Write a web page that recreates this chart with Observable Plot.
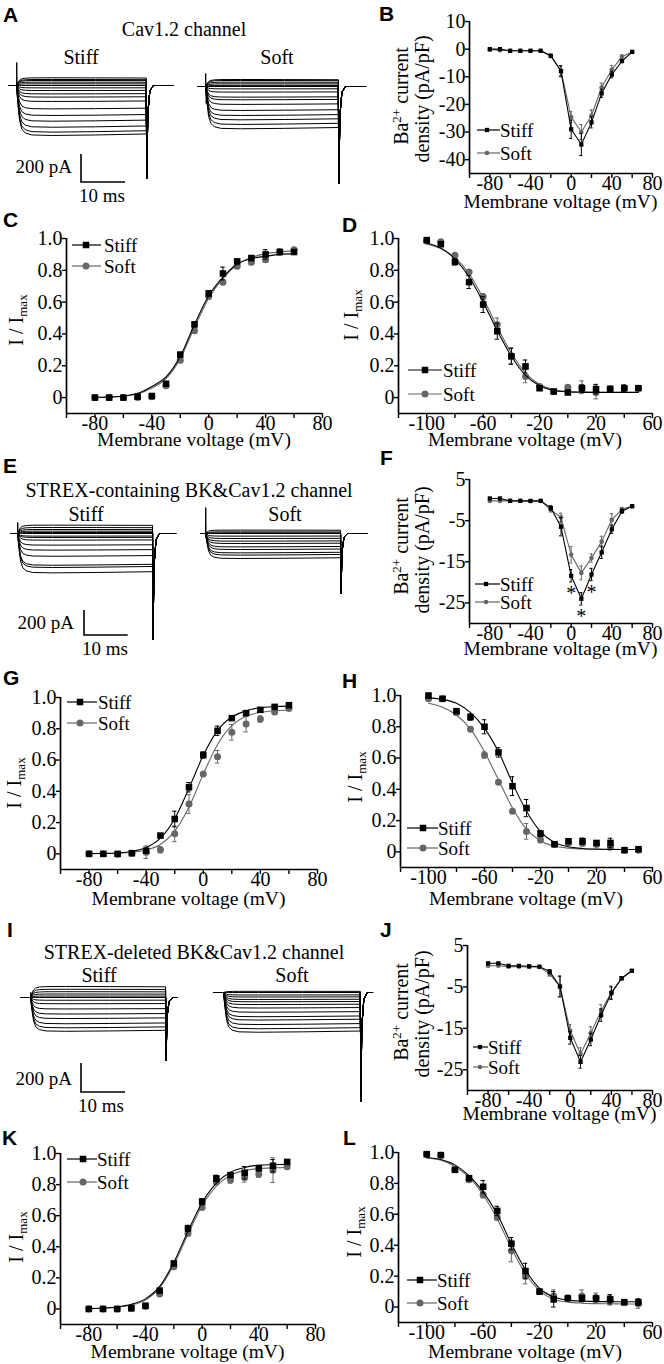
<!DOCTYPE html>
<html>
<head>
<meta charset="utf-8">
<script src="https://cdn.jsdelivr.net/npm/d3@7"></script>
<script src="https://cdn.jsdelivr.net/npm/@observablehq/plot@0.6"></script>
<style>
  html, body { margin: 0; padding: 0; background: #fff; }
  #fig { position: relative; width: 664px; height: 1364px; overflow: hidden; background: #fff; }
  #fig > svg { position: absolute; left: 0; top: 0; }
</style>
</head>
<body>
<div id="fig"></div>
<script>
// ======================= DATA =======================
const seriesNames = ["Stiff", "Soft"];
const vIV    = [-80,-70,-60,-50,-40,-30,-20,-10,0,10,20,30,40,50,60];
const vInact = [-100,-90,-80,-70,-60,-50,-40,-30,-20,-10,0,10,20,30,40,50];

// B: Cav1.2, Ba2+ current density (pA/pF)
const ivB_stiff    = [0,0,-0.6,-0.6,-0.6,-0.6,-2.5,-8,-29,-34.5,-26.5,-16,-9.2,-4.3,-1];
const ivB_stiffErr = [0,0,0,0,0,0,0.5,2,3.3,4,2,1.5,1.2,0.6,0];
const ivB_soft     = [-0.2,-0.4,-0.6,-0.6,-0.6,-0.6,-2.2,-7.8,-24.6,-30,-24,-13.8,-7.4,-2.7,-1];
const ivB_softErr  = [0,0,0,0,0,0,0.5,1.8,2,2.7,2,1.5,1.5,0.6,0];

// F: STREX-containing BK & Cav1.2
const ivF_stiff    = [0.4,0.4,-0.2,-0.2,-0.2,-0.2,-1.9,-6.5,-18.4,-24,-18.1,-12.7,-7.1,-2.7,-1.5];
const ivF_stiffErr = [0,0,0,0,0,0,0.5,2.2,1.5,1.5,1.5,1.5,1,0.5,0.3];
const ivF_soft     = [-0.2,-0.2,-0.2,-0.2,-0.3,-0.2,-2.4,-4.2,-13.3,-17.7,-14.1,-10.1,-4.8,-2.2,-1.5];
const ivF_softErr  = [0,0,0,0,0,0,0.5,1,2,1.7,1,1.3,1.5,0.4,0.3];
const sigF_v       = [0,10,20];

// J: STREX-deleted BK & Cav1.2
const ivJ_stiff    = [0.7,0.7,0.1,0.1,0,-0.1,-1.3,-4.9,-17.3,-23.1,-17.7,-11.8,-6.5,-2.9,-1.1];
const ivJ_stiffErr = [0,0,0,0,0,0,0.5,2.5,1.5,1.5,1.5,1.5,1.5,0.4,0.3];
const ivJ_soft     = [0.1,0.1,-0.1,-0.1,-0.2,-0.2,-1.9,-4.9,-15.6,-21.2,-16.1,-10.8,-6.3,-2.9,-1.1];
const ivJ_softErr  = [0,0,0,0,0,0,0.5,2.5,1.5,1.5,1.5,1.5,1.5,0.4,0.3];

// C: activation (I/Imax)
const actC_stiff    = [0,0,0,0.006,0.01,0.087,0.27,0.46,0.655,0.78,0.856,0.877,0.9,0.915,0.915];
const actC_stiffErr = [0,0,0,0,0,0.01,0.015,0.015,0.015,0.04,0.015,0.015,0.03,0.015,0];
const actC_soft     = [0,0,0,0,0.006,0.074,0.235,0.42,0.636,0.725,0.826,0.85,0.866,0.915,0.93];
const actC_softErr  = [0,0,0,0,0,0.01,0.015,0.015,0.015,0.015,0.015,0.015,0.015,0.02,0];
const fitC_stiff    = [0.002,0.004,0.01,0.027,0.07,0.13,0.26,0.46,0.64,0.757,0.84,0.874,0.888,0.9,0.905];
const fitC_soft     = [0.001,0.003,0.008,0.022,0.06,0.12,0.245,0.44,0.625,0.75,0.835,0.88,0.905,0.915,0.922];

// D: inactivation
const inD_stiff    = [0.99,0.964,0.853,0.726,0.585,0.417,0.259,0.196,0.059,0.038,0.032,0.059,0.053,0.055,0.059,0.059];
const inD_stiffErr = [0.01,0.01,0.02,0.04,0.05,0.05,0.05,0.04,0.015,0.01,0.01,0.02,0.03,0.01,0.02,0.01];
const inD_soft     = [0.985,0.979,0.895,0.79,0.634,0.46,0.263,0.133,0.07,0.038,0.065,0.065,0.032,0.055,0.059,0.059];
const inD_softErr  = [0.01,0.01,0.01,0.015,0.02,0.04,0.05,0.04,0.015,0.01,0.015,0.04,0.04,0.01,0.02,0.015];
const fitD_stiff   = [0.97,0.94,0.87,0.76,0.6,0.42,0.26,0.14,0.075,0.045,0.036,0.033,0.032,0.032,0.032,0.032];
const fitD_soft    = [0.965,0.935,0.88,0.78,0.625,0.445,0.28,0.155,0.082,0.05,0.038,0.036,0.035,0.035,0.035,0.035];

// G: activation
const actG_stiff    = [0,0,0,0.004,0.02,0.117,0.223,0.426,0.632,0.787,0.868,0.9,0.921,0.94,0.951];
const actG_stiffErr = [0,0,0,0,0.01,0.01,0.05,0.03,0.02,0.03,0.01,0.01,0.01,0.01,0];
const actG_soft     = [0,0,-0.002,0.004,0.01,0.026,0.128,0.319,0.51,0.621,0.777,0.83,0.862,0.908,0.93];
const actG_softErr  = [0,0,0,0.01,0.04,0.02,0.05,0.06,0.01,0.04,0.05,0.05,0.02,0.01,0];
const fitG_stiff    = [0.002,0.003,0.006,0.015,0.04,0.1,0.225,0.42,0.63,0.79,0.875,0.915,0.935,0.942,0.945];
const fitG_soft     = [0.001,0.002,0.004,0.01,0.025,0.06,0.145,0.3,0.51,0.7,0.82,0.88,0.905,0.915,0.92];

// H: inactivation
const inH_stiff    = [1.0,0.979,0.9,0.862,0.8,0.636,0.42,0.28,0.117,0.049,0.068,0.068,0.057,0.057,0.011,0.017];
const inH_stiffErr = [0.01,0.01,0.01,0.02,0.045,0.03,0.06,0.055,0.02,0.01,0.015,0.02,0.015,0.03,0.01,0.01];
const inH_soft     = [0.979,0.979,0.89,0.784,0.619,0.445,0.26,0.131,0.078,0.047,0.059,0.053,0.047,0.032,0.011,0.011];
const inH_softErr  = [0.01,0.01,0.01,0.01,0.02,0.01,0.01,0.05,0.02,0.01,0.015,0.01,0.01,0.02,0.01,0.01];
const fitH_stiff   = [0.985,0.975,0.95,0.89,0.79,0.64,0.44,0.26,0.13,0.06,0.033,0.022,0.018,0.016,0.015,0.015];
const fitH_soft    = [0.95,0.925,0.875,0.785,0.64,0.46,0.28,0.145,0.07,0.037,0.024,0.018,0.016,0.015,0.015,0.015];

// K: activation
const actK_stiff    = [0,0,0,0.004,0.021,0.118,0.293,0.518,0.69,0.84,0.861,0.876,0.904,0.921,0.946];
const actK_stiffErr = [0,0,0,0,0,0.01,0.01,0.02,0.02,0.02,0.015,0.04,0.015,0.04,0.01];
const actK_soft     = [0,0,0,0.004,0.015,0.096,0.272,0.486,0.653,0.818,0.829,0.846,0.867,0.893,0.914];
const actK_softErr  = [0,0,0,0,0,0.01,0.01,0.01,0.01,0.02,0.02,0.03,0.02,0.08,0.01];
const fitK_stiff    = [0.003,0.006,0.013,0.03,0.065,0.145,0.3,0.5,0.685,0.81,0.88,0.91,0.925,0.928,0.93];
const fitK_soft     = [0.002,0.005,0.011,0.025,0.058,0.135,0.285,0.48,0.665,0.79,0.86,0.89,0.903,0.908,0.91];

// L: inactivation
const inL_stiff    = [0.989,0.983,0.888,0.834,0.778,0.622,0.41,0.233,0.1,0.05,0.056,0.056,0.056,0.05,0.032,0.032];
const inL_stiffErr = [0.01,0.01,0.01,0.015,0.04,0.03,0.04,0.05,0.015,0.05,0.015,0.02,0.02,0.03,0.015,0.02];
const inL_soft     = [0.989,0.983,0.888,0.823,0.726,0.579,0.363,0.2,0.1,0.071,0.06,0.071,0.06,0.043,0.028,0.022];
const inL_softErr  = [0.01,0.01,0.01,0.015,0.02,0.015,0.07,0.05,0.015,0.04,0.015,0.04,0.03,0.03,0.015,0.03];
const fitL_stiff   = [0.968,0.955,0.92,0.85,0.745,0.6,0.41,0.24,0.12,0.065,0.045,0.038,0.035,0.035,0.034,0.034];
const fitL_soft    = [0.963,0.95,0.91,0.84,0.725,0.57,0.38,0.215,0.105,0.05,0.032,0.025,0.022,0.021,0.02,0.02];

// Current traces: steady amplitude of each sweep (pA)
const traceA_stiff = [55,43,36,24,12,0,-17,-36,-60,-83,-114,-167,-214,-255,-298,-333,-357];
const traceA_soft  = [50,43,31,19,8,0,-17,-40,-76,-95,-128,-171,-207,-238,-271,-302];
const traceE_stiff = [67,48,32,19,8,0,-21,-32,-53,-93,-133,-182,-254,-272,-315];
const traceE_soft  = [27,13,5,0,-21,-40,-61,-80,-107,-128,-155,-173,-200];
const traceI_stiff = [76,57,40,24,10,0,-19,-43,-79,-114,-145,-181,-209,-233];
const traceI_soft  = [8,0,-17,-31,-48,-64,-83,-107,-136,-167,-190,-221,-250,-274];
// per group: pulse end (ms), tail current peak (pA), onset transient (pA)
const pulseEnd  = {Astiff: 29.5, Asoft: 30.2, Estiff: 30.9, Esoft: 30.9, Istiff: 30.7, Isoft: 31.1};
const tailPeak  = {Astiff: -664, Asoft: -693, Estiff: -848, Esoft: -480, Istiff: -436, Isoft: -750};
const onsetUp   = {Astiff: 164, Asoft: 93, Estiff: 88, Esoft: 208, Istiff: 36, Isoft: 0};
const onsetDown = {Astiff: -40, Asoft: -121, Estiff: -30, Esoft: -30, Istiff: -20, Isoft: 0};
// activation time course of a sweep, and tail decay
const riseTime = [0,0.3,0.7,1.2,2,3.5,8,18];
const riseFrac = [0,0.35,0.7,0.87,0.95,0.99,1,0.99];
const endFrac  = 0.97;
const tailTime = [0,0.1,0.35,0.8,1.6];
const tailFrac = [0,1,0.3,0.06,0];

// tick values / labels
const xTicksIV   = [-100,-80,-60,-40,-20,0,20,40,60,80];
const xLabelsIV  = [-80,-40,0,40,80];
const xTicksIn   = [-120,-100,-80,-60,-40,-20,0,20,40,60];
const xLabelsIn  = [-100,-60,-20,20,60];
const yTicksN    = [0,0.2,0.4,0.6,0.8,1.0];
const yLabelsN   = ["0","0.2","0.4","0.6","0.8","1.0"];
const yTicksB    = [10,0,-10,-20,-30,-40];
const yLabelsB   = ["10","0","-10","-20","-30","-40"];
const yTicksFJ   = [5,-5,-15,-25];
const yLabelsFJ  = ["5","-5","-15","-25"];

// ======================= LAYOUT / STYLE =======================
const W = 664, H = 1364;
const SERIF = "Liberation Serif, Times New Roman, Times, serif";
const SANS = "Liberation Sans, Arial, Helvetica, sans-serif";
const BLACK = "#000000", GRAY = "#666666";
const STYLE = {background: "transparent", fontFamily: SERIF, fontSize: "20px", color: "#000", overflow: "visible"};
const fig = d3.select("#fig");

const rows = (vs, ys, es) => vs.map((v, i) => ({v, y: ys[i], e: es ? es[i] : 0}));

function serifify(svg) {
  const s = d3.select(svg).attr("font-family", SERIF).attr("font-size", 20);
  s.selectAll("g[aria-label$='tick label']").attr("font-family", SERIF).attr("font-size", 20);
  s.selectAll("text").attr("font-family", SERIF);
}

function chart(L, S) {
  const xLab = new Set(L.xLabels);
  const yLab = new Map(L.yTicks.map((v, i) => [v, L.yLabels[i]]));
  const big = S.kind !== "iv";
  const marks = [
    Plot.axisX({ticks: L.xTicks, tickFormat: v => xLab.has(v) ? String(v) : "", tickSize: 5, tickPadding: -2.5, strokeWidth: 1.4, label: null}),
    Plot.axisY({ticks: L.yTicks, tickFormat: v => yLab.get(v) ?? "", tickSize: 4, tickPadding: 0, strokeWidth: 1.4, label: null}),
    Plot.ruleX([L.xDomain[0]], {stroke: BLACK, strokeWidth: 1.7}),
    Plot.ruleY([L.yDomain[0]], {stroke: BLACK, strokeWidth: 1.7})
  ];
  const series = [
    {d: rows(S.v, S.soft, S.softErr), fit: S.fitSoft ? rows(S.v, S.fitSoft) : null, c: GRAY, sym: "circle"},
    {d: rows(S.v, S.stiff, S.stiffErr), fit: S.fitStiff ? rows(S.v, S.fitStiff) : null, c: BLACK, sym: "square"}
  ];
  const cap = 1.6;
  for (const s of series) {
    const eb = s.d.filter(p => p.e > 0);
    if (s.fit) marks.push(Plot.line(s.fit, {x: "v", y: "y", stroke: s.c, strokeWidth: 1.1, curve: "monotone-x"}));
    else marks.push(Plot.line(s.d, {x: "v", y: "y", stroke: s.c, strokeWidth: 1.1}));
    marks.push(Plot.ruleX(eb, {x: "v", y1: p => p.y - p.e, y2: p => p.y + p.e, stroke: s.c, strokeWidth: 1}));
    marks.push(Plot.ruleY(eb, {y: p => p.y + p.e, x1: p => p.v - cap, x2: p => p.v + cap, stroke: s.c, strokeWidth: 1}));
    marks.push(Plot.ruleY(eb, {y: p => p.y - p.e, x1: p => p.v - cap, x2: p => p.v + cap, stroke: s.c, strokeWidth: 1}));
    const r = s.sym === "square" ? (big ? 3.7 : 2.4) : (big ? 3.5 : 2.3);
    marks.push(Plot.dot(s.d, {x: "v", y: "y", symbol: s.sym, r, fill: s.c, stroke: "none"}));
  }
  if (S.sig) {
    const sd = S.sig.map(v => ({v, y: S.stiff[S.v.indexOf(v)]}));
    marks.push(Plot.text(sd, {x: "v", y: "y", text: d => "*", dy: 18, fontSize: 20, fill: BLACK}));
  }
  const svg = Plot.plot({
    width: W, height: H,
    marginLeft: L.xPx[0], marginRight: W - L.xPx[1],
    marginTop: L.yPx[1], marginBottom: H - L.yPx[0],
    x: {domain: L.xDomain}, y: {domain: L.yDomain},
    style: STYLE, marks
  });
  serifify(svg);
  fig.node().appendChild(svg);
  return svg;
}

function sweep(amp, G, k) {
  const pts = [{t: G.tFrom, i: 0, k}, {t: 0, i: 0, k}];
  riseTime.forEach((t, j) => pts.push({t, i: amp * riseFrac[j], k}));
  pts.push({t: G.pulseEnd, i: amp * endFrac, k});
  tailTime.forEach((t, j) => pts.push({t: G.pulseEnd + t, i: G.tail * tailFrac[j], k}));
  pts.push({t: G.tTo, i: 0, k});
  return pts;
}

function traces(G) {
  const data = G.amps.flatMap((a, k) => sweep(a, G, k));
  const onset = [{t: 0, i: 0}, {t: 0.05, i: G.up}, {t: 0.15, i: G.down}, {t: 0.4, i: 0}];
  const svg = Plot.plot({
    width: W, height: H,
    x: {domain: [0, 10], range: [G.x0, G.x0 + G.px10], axis: null},
    y: {domain: [0, -200], range: [G.base, G.base + G.px200], axis: null},
    style: STYLE,
    marks: [
      Plot.line(data, {x: "t", y: "i", z: "k", stroke: BLACK, strokeWidth: 1}),
      Plot.line(onset, {x: "t", y: "i", stroke: BLACK, strokeWidth: 1})
    ]
  });
  fig.node().appendChild(svg);
  return svg;
}

// ---- trace panels ----
const TG = [
  {key: "A", stiff: {amps: traceA_stiff, x0: 16, base: 85, px10: 44, px200: 28, tFrom: -1.8, tTo: 35.7, g: "Astiff"},
             soft:  {amps: traceA_soft, x0: 205, base: 86, px10: 44, px200: 28, tFrom: -1.8, tTo: 36.4, g: "Asoft"},
   bar: [81, 182]},
  {key: "E", stiff: {amps: traceE_stiff, x0: 17, base: 533, px10: 43.7, px200: 25, tFrom: -1.6, tTo: 36.2, g: "Estiff"},
             soft:  {amps: traceE_soft, x0: 205, base: 533, px10: 43.7, px200: 25, tFrom: -1.1, tTo: 37, g: "Esoft"},
   bar: [84, 635]},
  {key: "I", stiff: {amps: traceI_stiff, x0: 30, base: 997, px10: 44, px200: 29, tFrom: -2.3, tTo: 33.4, g: "Istiff"},
             soft:  {amps: traceI_soft, x0: 223, base: 992, px10: 44, px200: 29, tFrom: -2.3, tTo: 33.9, g: "Isoft"},
   bar: [81, 1092]}
];
const barInfo = [];
for (const T of TG) {
  let ref;
  for (const side of ["stiff", "soft"]) {
    const G = Object.assign({}, T[side], {pulseEnd: pulseEnd[T[side].g], tail: tailPeak[T[side].g], up: onsetUp[T[side].g], down: onsetDown[T[side].g]});
    const svg = traces(G);
    if (side === "stiff") ref = svg;
  }
  const sx = ref.scale("x"), sy = ref.scale("y");
  barInfo.push({corner: T.bar, h: sx.apply(10) - sx.apply(0), v: sy.apply(-200) - sy.apply(0)});
}

// ---- chart panels ----
const P = {
  B: {L: {xDomain: [-100, 80], xPx: [469, 652], yDomain: [-45, 10], yPx: [173, 21], xTicks: xTicksIV, xLabels: xLabelsIV, yTicks: yTicksB, yLabels: yLabelsB},
      S: {kind: "iv", v: vIV, stiff: ivB_stiff, stiffErr: ivB_stiffErr, soft: ivB_soft, softErr: ivB_softErr}},
  C: {L: {xDomain: [-100, 80], xPx: [66, 322], yDomain: [-0.1, 1.0], yPx: [413, 238], xTicks: xTicksIV, xLabels: xLabelsIV, yTicks: yTicksN, yLabels: yLabelsN},
      S: {kind: "fit", v: vIV, stiff: actC_stiff, stiffErr: actC_stiffErr, soft: actC_soft, softErr: actC_softErr, fitStiff: fitC_stiff, fitSoft: fitC_soft}},
  D: {L: {xDomain: [-120, 60], xPx: [398, 652], yDomain: [-0.1, 1.0], yPx: [413, 238], xTicks: xTicksIn, xLabels: xLabelsIn, yTicks: yTicksN, yLabels: yLabelsN},
      S: {kind: "fit", v: vInact, stiff: inD_stiff, stiffErr: inD_stiffErr, soft: inD_soft, softErr: inD_softErr, fitStiff: fitD_stiff, fitSoft: fitD_soft}},
  F: {L: {xDomain: [-100, 80], xPx: [469, 652], yDomain: [-30, 5], yPx: [623, 479], xTicks: xTicksIV, xLabels: xLabelsIV, yTicks: yTicksFJ, yLabels: yLabelsFJ},
      S: {kind: "iv", v: vIV, stiff: ivF_stiff, stiffErr: ivF_stiffErr, soft: ivF_soft, softErr: ivF_softErr, sig: sigF_v}},
  G: {L: {xDomain: [-100, 80], xPx: [60, 317], yDomain: [-0.1, 1.0], yPx: [869, 697], xTicks: xTicksIV, xLabels: xLabelsIV, yTicks: yTicksN, yLabels: yLabelsN},
      S: {kind: "fit", v: vIV, stiff: actG_stiff, stiffErr: actG_stiffErr, soft: actG_soft, softErr: actG_softErr, fitStiff: fitG_stiff, fitSoft: fitG_soft}},
  H: {L: {xDomain: [-120, 60], xPx: [400, 652], yDomain: [-0.1, 1.0], yPx: [867, 695], xTicks: xTicksIn, xLabels: xLabelsIn, yTicks: yTicksN, yLabels: yLabelsN},
      S: {kind: "fit", v: vInact, stiff: inH_stiff, stiffErr: inH_stiffErr, soft: inH_soft, softErr: inH_softErr, fitStiff: fitH_stiff, fitSoft: fitH_soft}},
  J: {L: {xDomain: [-100, 80], xPx: [467, 652], yDomain: [-30, 5], yPx: [1090, 945], xTicks: xTicksIV, xLabels: xLabelsIV, yTicks: yTicksFJ, yLabels: yLabelsFJ},
      S: {kind: "iv", v: vIV, stiff: ivJ_stiff, stiffErr: ivJ_stiffErr, soft: ivJ_soft, softErr: ivJ_softErr}},
  K: {L: {xDomain: [-100, 80], xPx: [60, 315], yDomain: [-0.1, 1.0], yPx: [1324, 1153], xTicks: xTicksIV, xLabels: xLabelsIV, yTicks: yTicksN, yLabels: yLabelsN},
      S: {kind: "fit", v: vIV, stiff: actK_stiff, stiffErr: actK_stiffErr, soft: actK_soft, softErr: actK_softErr, fitStiff: fitK_stiff, fitSoft: fitK_soft}},
  L: {L: {xDomain: [-120, 60], xPx: [398, 652], yDomain: [-0.1, 1.0], yPx: [1322, 1152], xTicks: xTicksIn, xLabels: xLabelsIn, yTicks: yTicksN, yLabels: yLabelsN},
      S: {kind: "fit", v: vInact, stiff: inL_stiff, stiffErr: inL_stiffErr, soft: inL_soft, softErr: inL_softErr, fitStiff: fitL_stiff, fitSoft: fitL_soft}}
};
for (const k of Object.keys(P)) chart(P[k].L, P[k].S);

// ======================= TEXT OVERLAY =======================
const ov = fig.append("svg").attr("width", W).attr("height", H);
function txt(x, y, s, o = {}) {
  return ov.append("text").attr("x", x).attr("y", y)
    .attr("font-family", o.fam || SERIF).attr("font-size", o.size || 19)
    .attr("font-weight", o.weight || null).attr("text-anchor", o.anchor || "start")
    .attr("fill", "#000").text(s);
}
// panel letters
const letters = [["A",3,22],["B",379,21],["C",3,227],["D",342,232],["E",3,473],["F",380,465],
                 ["G",3,685],["H",342,688],["I",7,937],["J",380,937],["K",2,1145],["L",343,1145]];
letters.forEach(([s, x, y]) => txt(x, y, s, {fam: SANS, size: 21, weight: "bold"}));

// trace titles
txt(184, 36, "Cav1.2 channel", {size: 20, anchor: "middle"});
txt(189, 497, "STREX-containing BK&Cav1.2 channel", {size: 20, anchor: "middle"});
txt(194, 959, "STREX-deleted BK&Cav1.2 channel", {size: 20, anchor: "middle"});
[[81, 277, 64], [86, 285, 521], [99, 292, 982]].forEach(([a, b, y]) => {
  txt(a, y, seriesNames[0], {size: 20, anchor: "middle"});
  txt(b, y, seriesNames[1], {size: 20, anchor: "middle"});
});

// scale bars
const barText = [[72, 173, 102, 202], [74, 629, 105, 655], [72, 1085, 101, 1112]];
barInfo.forEach((b, i) => {
  const [cx, cy] = b.corner;
  ov.append("path").attr("d", `M${cx},${cy - b.v}V${cy}H${cx + b.h}`).attr("fill", "none").attr("stroke", BLACK).attr("stroke-width", 1.6);
  const [tx, ty, mx, my] = barText[i];
  txt(tx, ty, "200 pA", {size: 19, anchor: "end"});
  txt(mx, my, "10 ms", {size: 19, anchor: "middle"});
});

// x-axis titles
const xTitle = [["B", 208], ["C", 446], ["D", 446], ["F", 655], ["G", 905], ["H", 905], ["J", 1120], ["K", 1358], ["L", 1358]];
xTitle.forEach(([k, y]) => {
  const xp = P[k].L.xPx;
  txt((xp[0] + xp[1]) / 2, y, "Membrane voltage (mV)", {size: 19.5, anchor: "middle"});
});

// y-axis titles
function yI(x, cy) {
  const t = ov.append("text").attr("transform", `translate(${x},${cy}) rotate(-90)`)
    .attr("text-anchor", "middle").attr("font-family", SERIF).attr("font-size", 20).attr("fill", "#000");
  t.append("tspan").text("I / I");
  t.append("tspan").attr("dy", 4).attr("font-size", 13).text("max");
}
[[23, 320], [358, 315], [21, 783], [362, 777], [23, 1237], [361, 1232]].forEach(([x, y]) => yI(x, y));
function yBa(x1, c1, x2, c2) {
  const t = ov.append("text").attr("transform", `translate(${x1},${c1}) rotate(-90)`)
    .attr("text-anchor", "middle").attr("font-family", SERIF).attr("font-size", 20).attr("fill", "#000");
  t.append("tspan").text("Ba");
  t.append("tspan").attr("dy", -7).attr("font-size", 13).text("2+");
  t.append("tspan").attr("dy", 7).text(" current");
  ov.append("text").attr("transform", `translate(${x2},${c2}) rotate(-90)`)
    .attr("text-anchor", "middle").attr("font-family", SERIF).attr("font-size", 20).attr("fill", "#000")
    .text("density (pA/pF)");
}
yBa(408, 96, 429, 99);
yBa(408, 546, 429, 550);
yBa(408, 1012, 429, 1014);

// legends
const legends = [
  {x1: 477, x2: 500, mx: 487, tx: 500, y1: 130, y2: 153, small: true},
  {x1: 72, x2: 101, mx: 86, tx: 104, y1: 245, y2: 266},
  {x1: 408, x2: 442, mx: 425, tx: 443, y1: 370, y2: 394},
  {x1: 475, x2: 500, mx: 486, tx: 500, y1: 584, y2: 602, small: true},
  {x1: 67, x2: 97, mx: 80, tx: 98, y1: 702, y2: 723},
  {x1: 407, x2: 438, mx: 423, tx: 438, y1: 828, y2: 848},
  {x1: 473, x2: 488, mx: 480, tx: 488, y1: 1047, y2: 1067, small: true},
  {x1: 67, x2: 97, mx: 83, tx: 97, y1: 1159, y2: 1182},
  {x1: 407, x2: 437, mx: 420, tx: 437, y1: 1280, y2: 1303}
];
legends.forEach(l => {
  [[seriesNames[0], BLACK, "square", l.y1], [seriesNames[1], GRAY, "circle", l.y2]].forEach(([name, c, sym, y]) => {
    ov.append("line").attr("x1", l.x1).attr("x2", l.x2).attr("y1", y).attr("y2", y).attr("stroke", c).attr("stroke-width", 1.2);
    if (sym === "square") {
      const s = l.small ? 4.3 : 6.5;
      ov.append("rect").attr("x", l.mx - s / 2).attr("y", y - s / 2).attr("width", s).attr("height", s).attr("fill", c);
    } else {
      ov.append("circle").attr("cx", l.mx).attr("cy", y).attr("r", l.small ? 2.3 : 3.5).attr("fill", c);
    }
    txt(l.tx, y + 6.5, name, {size: 19});
  });
});
</script>
</body>
</html>
